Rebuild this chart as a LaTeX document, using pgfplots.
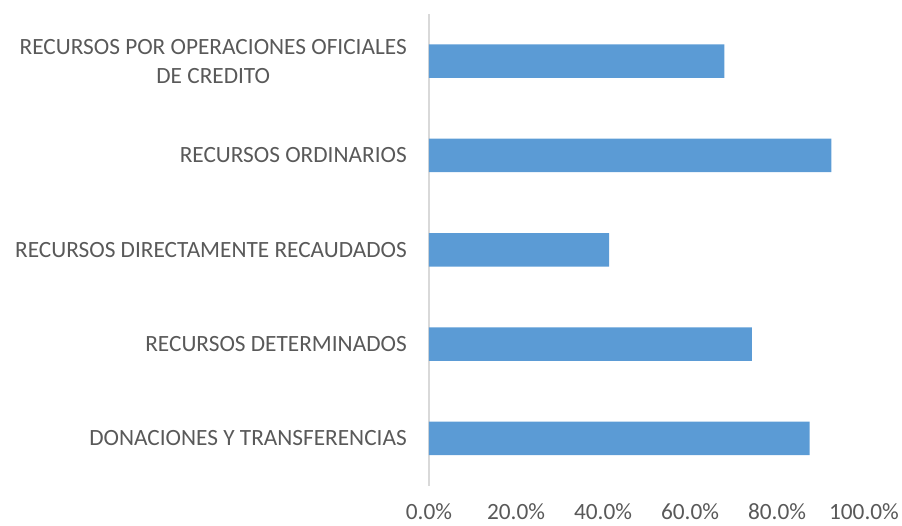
\documentclass[border=0pt]{standalone}
\usepackage{pgfplots}
\pgfplotsset{compat=1.18}
\usepackage{fontspec}
\setmainfont{Carlito}
\definecolor{barblue}{HTML}{5B9BD5}
\definecolor{txtgray}{HTML}{595959}
\definecolor{axgray}{HTML}{D9D9D9}
\begin{document}
\begin{tikzpicture}
\path[use as bounding box] (-429pt,-39.5pt) rectangle (473pt,485.5pt);
\begin{axis}[
  at={(0,0)}, anchor=south west,
  scale only axis,
  width=435pt, height=471.5pt,
  xbar, bar width=33.5pt,
  xmin=0, xmax=100,
  ymin=-0.5, ymax=4.5,
  xtick={0,20,40,60,80,100},
  ytick={0,1,2,3,4},
  yticklabels={DONACIONES Y TRANSFERENCIAS, RECURSOS DETERMINADOS, RECURSOS DIRECTAMENTE RECAUDADOS, RECURSOS ORDINARIOS, {RECURSOS POR OPERACIONES OFICIALES\\DE CREDITO}},
  xticklabel={\pgfmathprintnumber[fixed,fixed zerofill,precision=1]{\tick}\%},
  /pgf/number format/assume math mode=true,
  axis x line*=bottom,
  x axis line style={draw=none},
  axis y line*=left,
  y axis line style={draw=axgray, line width=1.2pt, -},
  major tick length=0pt,
  tick style={draw=none},
  every tick label/.append style={font=\fontsize{23.3}{29}\selectfont, text=txtgray},
  yticklabel style={align=center, inner sep=0pt, anchor=east, xshift=-22pt},
  xticklabel style={inner sep=0pt, anchor=north, yshift=-18pt},
  clip=false,
]
\addplot[fill=barblue, draw=none] coordinates {(87.5,0) (74.2,1) (41.4,2) (92.5,3) (67.9,4)};
\end{axis}
\end{tikzpicture}
\end{document}
